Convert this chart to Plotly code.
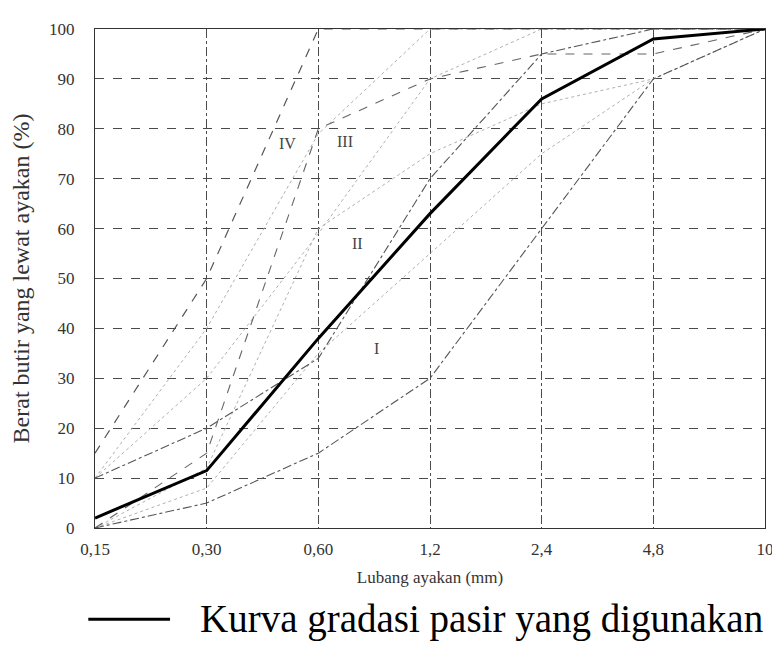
import plotly.graph_objects as go

# ---------------- data ----------------
sieve_labels = ["0,15", "0,30", "0,60", "1,2", "2,4", "4,8", "10"]
y_ticks = [0, 10, 20, 30, 40, 50, 60, 70, 80, 90, 100]

used_sand = [2, 11.5, 38, 63, 86, 98, 100]

zone1_upper = [10, 20, 34, 70, 95, 100, 100]
zone1_lower = [0, 5, 15, 30, 60, 90, 100]
zone2_upper = [10, 30, 59, 90, 100, 100, 100]
zone2_lower = [0, 8, 35, 55, 75, 90, 100]
zone3_upper = [10, 40, 79, 100, 100, 100, 100]
zone3_lower = [0, 12, 60, 75, 85, 90, 100]
zone4_upper = [15, 50, 100, 100, 100, 100, 100]
zone4_lower = [0, 15, 80, 90, 95, 95, 100]

zone_names = ["IV", "III", "II", "I"]

SERIF = "Liberation Serif, Times New Roman, serif"

fig = go.Figure()

zone_styles = [
    (zone2_upper, "#b0b0b0", "dot", 1),
    (zone2_lower, "#b0b0b0", "dot", 1),
    (zone3_upper, "#b0b0b0", "dot", 1),
    (zone3_lower, "#b0b0b0", "dot", 1),
    (zone4_upper, "#555555", "dash", 1.2),
    (zone4_lower, "#666666", "dash", 1.1),
    (zone1_upper, "#555555", "dashdot", 1.1),
    (zone1_lower, "#555555", "dashdot", 1.1),
]
for vals, col, dash, w in zone_styles:
    fig.add_trace(go.Scatter(
        x=sieve_labels, y=vals, mode="lines",
        line=dict(color=col, width=w, dash=dash),
        showlegend=False, hoverinfo="skip"))

fig.add_trace(go.Scatter(
    x=sieve_labels, y=used_sand, mode="lines",
    line=dict(color="black", width=3),
    name="Kurva gradasi pasir yang digunakan", showlegend=False))

# zone labels
label_pos = [(1.72, 77), (2.24, 77.5), (2.35, 57), (2.52, 36)]
for name, (xx, yy) in zip(zone_names, label_pos):
    fig.add_annotation(x=xx, y=yy, xref="x", yref="y", text=name,
                       showarrow=False,
                       font=dict(family=SERIF, size=16, color="#444"))

# legend (drawn manually to match the long sample line)
fig.add_shape(type="line", xref="paper", yref="paper",
              x0=-0.01, x1=0.112, y0=-0.183, y1=-0.183,
              line=dict(color="black", width=3))
fig.add_annotation(xref="paper", yref="paper", x=0.153, y=-0.183,
                   xanchor="left", yanchor="middle", showarrow=False,
                   text="Kurva gradasi pasir yang digunakan",
                   font=dict(family=SERIF, size=39, color="black"))

grid_col = "#4a4a4a"
fig.update_xaxes(
    type="category", range=[0, 6],
    tickmode="array", tickvals=sieve_labels, ticktext=sieve_labels,
    showgrid=True, gridcolor=grid_col, gridwidth=1, griddash="dashdot",
    showline=True, linecolor="#333", linewidth=1, mirror=True,
    ticks="", ticklabelstandoff=6,
    tickfont=dict(family=SERIF, size=17, color="#333"),
    title=dict(text="Lubang ayakan (mm)", standoff=12,
               font=dict(family=SERIF, size=17, color="#333")),
    zeroline=False,
)
fig.update_yaxes(
    range=[0, 100], tickvals=y_ticks,
    showgrid=True, gridcolor=grid_col, gridwidth=1, griddash="dash",
    showline=True, linecolor="#333", linewidth=1, mirror=True,
    ticks="", ticklabelstandoff=16,
    tickfont=dict(family=SERIF, size=17, color="#333"),
    title=dict(text="Berat butir yang lewat ayakan (%)", standoff=12,
               font=dict(family=SERIF, size=24, color="#333")),
    zeroline=False,
)

fig.update_layout(
    width=780, height=651,
    margin=dict(l=87, r=23, t=12, b=131),
    paper_bgcolor="white", plot_bgcolor="white",
    showlegend=False,
)

fig.write_html("out.html")
